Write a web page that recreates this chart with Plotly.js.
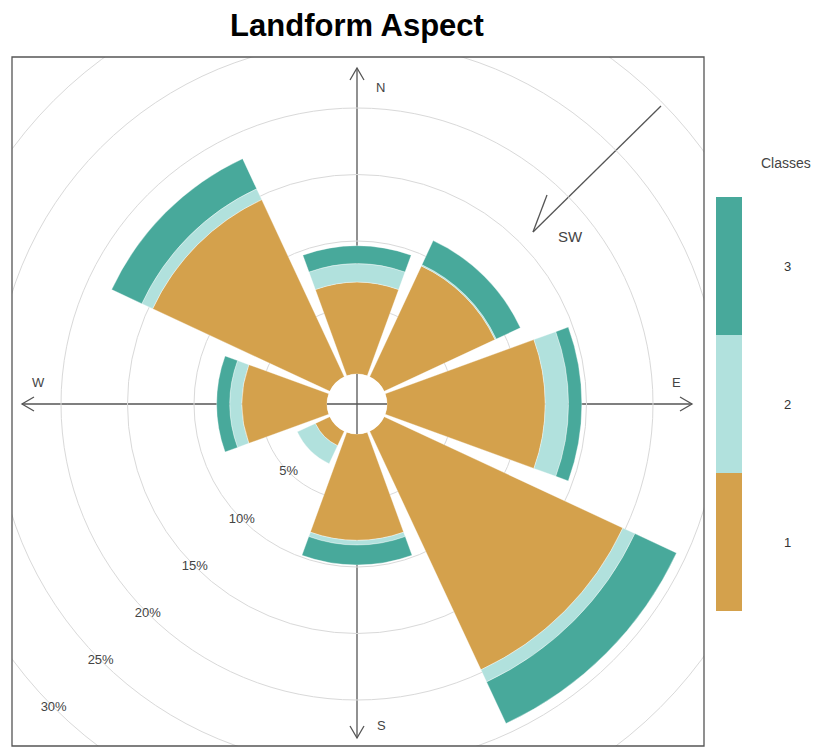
<!DOCTYPE html>
<html>
<head>
<meta charset="utf-8">
<script src="https://cdn.plot.ly/plotly-3.0.1.min.js"></script>
<style>
html,body{margin:0;padding:0;overflow:hidden;width:827px;height:750px;background:#fff}
#chart{position:absolute;left:-200px;top:-200px;width:1100px;height:1150px}
</style>
</head>
<body>
<div id="chart"></div>
<script>
// ---- data ----
const directions = ['N', 'NE', 'E', 'SE', 'S', 'SW', 'W', 'NW'];
const classNames = ['1', '2', '3'];
const class1 = [6.9, 9.2, 11.9, 19.8, 8.0, 1.2, 6.4, 14.7];
const class2 = [1.4, 0.1, 1.75, 1.0, 0.35, 1.5, 0.9, 0.9];
const class3 = [1.35, 2.0, 1.0, 3.45, 1.5, 0.0, 1.0, 2.5];
const gridTicks = [5, 10, 15, 20, 25, 30];
const gridLabels = ['5%', '10%', '15%', '20%', '25%', '30%'];
const classColors = ['#D4A14C', '#B1E1DD', '#48A99B'];

// ---- geometry (pixels of the page) ----
const OFF = 200, W = 1100, H = 1150;
const CX = 357, CY = 404;          // centre of the rose
const R = 500;                      // polar radius in px
const HOLE_PX = 30;                 // inner hole radius
const PX_PER_PCT = 13.3;            // radial scale
const rMax = (R - HOLE_PX) / PX_PER_PCT;
const LABEL_BEARING = 225;          // grid labels along the SW diagonal
const px = v => (v + OFF) / W;
const py = v => 1 - (v + OFF) / H;
const pt = (x, y) => px(x) + ' ' + py(y);

const FONT = 'Liberation Sans, Arial, sans-serif';
const cs = [[0, classColors[0]], [1/3, classColors[0]], [1/3, classColors[1]], [2/3, classColors[1]], [2/3, classColors[2]], [1, classColors[2]]];
const thetas = directions.map((d, i) => i * 360 / directions.length);

const series = [class1, class2, class3];
const traces = series.map((vals, k) => ({
  type: 'barpolar',
  r: vals,
  theta: thetas,
  width: 40,
  name: classNames[k],
  showlegend: false,
  marker: {
    color: vals.map(() => k + 1),
    colorscale: cs, cmin: 0.5, cmax: 3.5,
    showscale: k === 0,
    line: {color: 'rgba(255,255,255,0.7)', width: 0.5},
    colorbar: {
      x: px(716), xanchor: 'left', xpad: 0,
      y: py(CY), yanchor: 'middle', ypad: 0,
      len: 414, lenmode: 'pixels', thickness: 26,
      outlinewidth: 0,
      tickvals: [1, 2, 3], ticktext: classNames,
      ticks: 'outside', ticklen: 40, tickcolor: 'rgba(0,0,0,0)',
      tickfont: {family: FONT, size: 13, color: '#333'}
    }
  }
}));
// grid ring labels placed on the rings through the polar scale
traces.push({
  type: 'scatterpolar', mode: 'text', showlegend: false, hoverinfo: 'skip',
  r: gridTicks, theta: gridTicks.map(() => LABEL_BEARING), text: gridLabels,
  textposition: 'middle center',
  textfont: {family: FONT, size: 13, color: '#444'}
});

const lineStyle = {color: '#555', width: 1.3};
function pathShape(points, layer) {
  return {type: 'path', xref: 'paper', yref: 'paper', layer: layer || 'below',
    path: 'M ' + points.map(p => pt(p[0], p[1])).join(' L '), line: lineStyle};
}
const shapes = [
  // compass axes
  pathShape([[CX, CY], [CX, 68]]),
  pathShape([[350, 80], [CX, 68], [364, 80]]),
  pathShape([[CX, CY], [CX, 738]]),
  pathShape([[350, 726], [CX, 738], [364, 726]]),
  pathShape([[CX, CY], [22, CY]]),
  pathShape([[34, 397], [22, CY], [34, 411]]),
  pathShape([[CX, CY], [692, CY]]),
  pathShape([[680, 397], [692, CY], [680, 411]]),
  // SW arrow
  pathShape([[661, 106], [533, 232]]),
  pathShape([[533, 232], [547, 195]]),
];
// white masks outside the frame
const maskRects = [[-200, -200, 12, 950], [704, -200, 900, 950], [-200, -200, 900, 57], [-200, 746, 900, 950]];
maskRects.forEach(m => shapes.push({type: 'rect', xref: 'paper', yref: 'paper', layer: 'above',
  x0: px(m[0]), y0: py(m[1]), x1: px(m[2]), y1: py(m[3]), fillcolor: '#fff', line: {width: 0}}));
shapes.push({type: 'rect', xref: 'paper', yref: 'paper', layer: 'above',
  x0: px(12), y0: py(57), x1: px(704), y1: py(746), line: {color: '#555', width: 1.3}});

function label(text, x, y, size) {
  return {text: text, xref: 'paper', yref: 'paper', x: px(x), y: py(y), xanchor: 'center', yanchor: 'middle',
    showarrow: false, font: {family: FONT, size: size || 13, color: '#444'}};
}
const annotations = [
  label('N', 380, 87), label('E', 676, 382), label('S', 381, 725), label('W', 38, 382),
  label('SW', 570, 236, 15),
  label('Classes', 786, 163, 14)
];

const layout = {
  width: W, height: H,
  margin: {l: 0, r: 0, t: 0, b: 0},
  paper_bgcolor: '#fff',
  showlegend: false,
  title: {text: '<b>Landform Aspect</b>', xref: 'paper', yref: 'paper', x: px(357), xanchor: 'center',
    y: py(25), yanchor: 'middle', font: {family: FONT, size: 31, color: '#000'}},
  polar: {
    domain: {x: [px(CX - R), px(CX + R)], y: [py(CY + R), py(CY - R)]},
    hole: HOLE_PX / R,
    bgcolor: 'rgba(0,0,0,0)',
    barmode: 'stack',
    bargap: 0,
    angularaxis: {rotation: 90, direction: 'clockwise', showgrid: false, showline: false,
      showticklabels: false, ticks: '', layer: 'below traces'},
    radialaxis: {range: [0, rMax], tickvals: gridTicks, showticklabels: false,
      showline: false, ticks: '',
      gridcolor: '#d9d9d9', gridwidth: 1, angle: 225, layer: 'below traces'}
  },
  shapes: shapes,
  annotations: annotations
};

Plotly.newPlot('chart', traces, layout, {displayModeBar: false, staticPlot: true});
</script>
</body>
</html>
